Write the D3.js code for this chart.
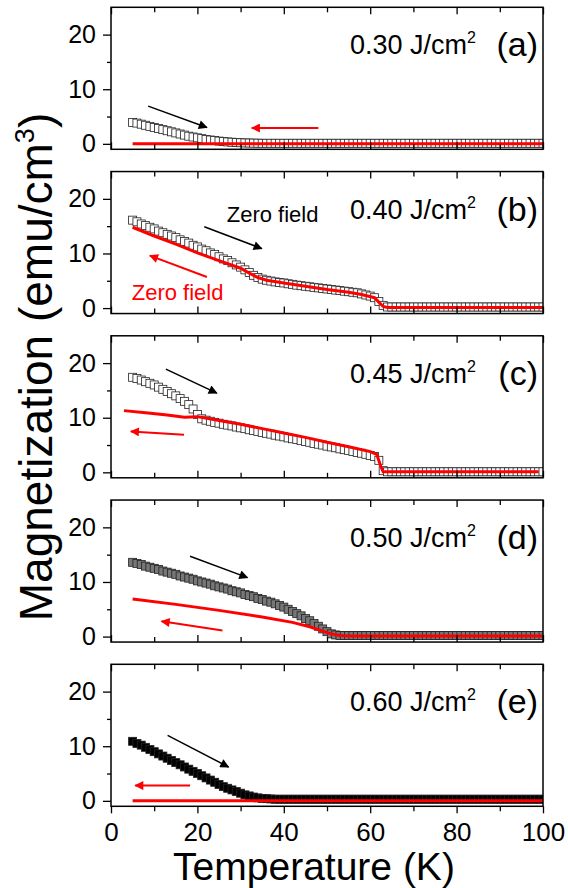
<!DOCTYPE html>
<html>
<head>
<meta charset="utf-8">
<script src="https://cdn.jsdelivr.net/npm/d3@7"></script>
<style>
body { margin: 0; background: #fff; }
svg { font-family: "Liberation Sans", Arial, sans-serif; }
</style>
</head>
<body>
<svg id="chart" width="568" height="888"></svg>
<script>
// temperatures of the warming runs (1 K steps)
var temps = d3.range(5, 101);

var fluences = ['0.30', '0.40', '0.45', '0.50', '0.60'];
var panelTags = ['(a)', '(b)', '(c)', '(d)', '(e)'];
var xTicks = [0, 20, 40, 60, 80, 100];
var xMinorTicks = [10, 30, 50, 70, 90];
var yTicks = [0, 10, 20];
var yMinorTicks = [5, 15];

// warming curves (black squares), one value per entry of temps
var warmA = [
	3.9, 3.8, 3.6, 3.4, 3.2, 3.0, 2.8, 2.6, 2.4, 2.2,
	2.0, 1.8, 1.6, 1.4, 1.25, 1.1, 0.95, 0.8, 0.7, 0.6,
	0.5, 0.42, 0.35, 0.3, 0.25, 0.2, 0.17, 0.15, 0.13, 0.12,
	0.1, 0.1, 0.1, 0.1, 0.1, 0.1, 0.1, 0.1, 0.1, 0.1,
	0.1, 0.1, 0.1, 0.1, 0.1, 0.1, 0.1, 0.1, 0.1, 0.1,
	0.1, 0.1, 0.1, 0.1, 0.1, 0.1, 0.1, 0.1, 0.1, 0.1,
	0.1, 0.1, 0.1, 0.1, 0.1, 0.1, 0.1, 0.1, 0.1, 0.1,
	0.1, 0.1, 0.1, 0.1, 0.1, 0.1, 0.1, 0.1, 0.1, 0.1,
	0.1, 0.1, 0.1, 0.1, 0.1, 0.1, 0.1, 0.1, 0.1, 0.1,
	0.1, 0.1, 0.1, 0.1, 0.1, 0.1
];
var warmB = [
	16.1, 15.8, 15.4, 15.1, 14.8, 14.5, 14.1, 13.8, 13.5, 13.2,
	12.9, 12.5, 12.2, 11.9, 11.5, 11.2, 10.8, 10.5, 10.1, 9.8,
	9.4, 9.0, 8.7, 8.3, 7.9, 7.5, 7.0, 6.5, 6.0, 5.6,
	5.3, 5.1, 4.95, 4.8, 4.7, 4.6, 4.45, 4.35, 4.2, 4.1,
	4.0, 3.9, 3.8, 3.7, 3.6, 3.5, 3.4, 3.3, 3.2, 3.1,
	3.0, 2.9, 2.8, 2.6, 2.4, 2.2, 1.9, 1.2, 0.5, 0.2,
	0.2, 0.2, 0.2, 0.2, 0.2, 0.2, 0.2, 0.2, 0.2, 0.2,
	0.2, 0.2, 0.2, 0.2, 0.2, 0.2, 0.2, 0.2, 0.2, 0.2,
	0.2, 0.2, 0.2, 0.2, 0.2, 0.2, 0.2, 0.2, 0.2, 0.2,
	0.2, 0.2, 0.2, 0.2, 0.2, 0.2
];
var warmC = [
	17.4, 17.2, 16.9, 16.6, 16.3, 16.0, 15.6, 15.2, 14.8, 14.4,
	14.0, 13.5, 13.0, 12.4, 11.6, 10.6, 9.8, 9.55, 9.35, 9.15,
	9.0, 8.8, 8.65, 8.5, 8.3, 8.15, 8.0, 7.8, 7.65, 7.5,
	7.3, 7.15, 7.0, 6.8, 6.65, 6.5, 6.3, 6.15, 6.0, 5.8,
	5.65, 5.5, 5.3, 5.15, 5.0, 4.8, 4.65, 4.5, 4.3, 4.15,
	4.0, 3.8, 3.65, 3.5, 3.3, 3.1, 2.9, 2.2, 0.3, 0.1,
	0.1, 0.1, 0.1, 0.1, 0.1, 0.1, 0.1, 0.1, 0.1, 0.1,
	0.1, 0.1, 0.1, 0.1, 0.1, 0.1, 0.1, 0.1, 0.1, 0.1,
	0.1, 0.1, 0.1, 0.1, 0.1, 0.1, 0.1, 0.1, 0.1, 0.1,
	0.1, 0.1, 0.1, 0.1, 0.1, 0.1
];
var warmD = [
	13.6, 13.4, 13.2, 12.9, 12.7, 12.5, 12.3, 12.0, 11.8, 11.6,
	11.4, 11.1, 10.9, 10.7, 10.5, 10.2, 10.0, 9.8, 9.6, 9.3,
	9.1, 8.9, 8.7, 8.4, 8.2, 8.0, 7.7, 7.5, 7.3, 7.0,
	6.8, 6.5, 6.3, 6.0, 5.7, 5.4, 5.0, 4.6, 4.2, 3.8,
	3.3, 2.9, 2.4, 1.9, 1.4, 0.9, 0.5, 0.3, 0.2, 0.2,
	0.2, 0.2, 0.2, 0.2, 0.2, 0.2, 0.2, 0.2, 0.2, 0.2,
	0.2, 0.2, 0.2, 0.2, 0.2, 0.2, 0.2, 0.2, 0.2, 0.2,
	0.2, 0.2, 0.2, 0.2, 0.2, 0.2, 0.2, 0.2, 0.2, 0.2,
	0.2, 0.2, 0.2, 0.2, 0.2, 0.2, 0.2, 0.2, 0.2, 0.2,
	0.2, 0.2, 0.2, 0.2, 0.2, 0.2
];
var warmE = [
	10.9, 10.5, 10.2, 9.8, 9.4, 9.0, 8.6, 8.2, 7.8, 7.4,
	7.0, 6.6, 6.2, 5.8, 5.4, 5.0, 4.6, 4.2, 3.8, 3.4,
	3.0, 2.6, 2.3, 2.0, 1.7, 1.4, 1.1, 0.9, 0.7, 0.55,
	0.45, 0.4, 0.35, 0.3, 0.3, 0.3, 0.3, 0.3, 0.3, 0.3,
	0.3, 0.3, 0.3, 0.3, 0.3, 0.3, 0.3, 0.3, 0.3, 0.3,
	0.3, 0.3, 0.3, 0.3, 0.3, 0.3, 0.3, 0.3, 0.3, 0.3,
	0.3, 0.3, 0.3, 0.3, 0.3, 0.3, 0.3, 0.3, 0.3, 0.3,
	0.3, 0.3, 0.3, 0.3, 0.3, 0.3, 0.3, 0.3, 0.3, 0.3,
	0.3, 0.3, 0.3, 0.3, 0.3, 0.3, 0.3, 0.3, 0.3, 0.3,
	0.3, 0.3, 0.3, 0.3, 0.3, 0.3
];

// cooling curves (red lines), [T, M]
var coolA = [[5, 0], [100, 0]];
var coolB = [[5, 14.8], [10, 13.2], [15, 11.7], [20, 10.1], [25, 8.7], [30, 7.3], [32, 6.4], [34, 5.6], [36, 5.1], [40, 4.6], [45, 4.0], [50, 3.4], [55, 2.9], [58, 2.5], [61, 1.9], [62, 1.1], [63, 0.3], [64, 0.1], [100, 0.1]];
var coolC = [[3, 11.3], [8, 10.9], [13, 10.5], [17, 10.1], [20, 10.2], [25, 9.5], [30, 8.8], [35, 8.0], [40, 7.2], [45, 6.4], [50, 5.5], [55, 4.7], [60, 3.8], [61.5, 3.3], [62.5, 1.0], [63, 0.1], [99, 0.1]];
var coolD = [[5, 6.9], [15, 5.9], [25, 4.8], [35, 3.6], [42, 2.6], [46, 1.8], [49, 1.0], [51, 0.5], [53, 0.2], [55, 0.1], [100, 0.1]];
var coolE = [[5, 0], [100, 0]];

// annotation arrows [T0, M0, T1, M1]
var arrowsBlack = [[8.6, 6.9, 22.2, 3.0], [21.6, 14.9, 34.9, 10.9], [12.7, 18.9, 24.5, 14.5], [18.3, 14.7, 31.6, 10.8], [13.1, 12.0, 27.2, 6.2]];
var arrowsRed = [[48, 2.9, 32.6, 2.9], [22.2, 5.7, 9.0, 9.6], [16.9, 6.9, 4.6, 7.5], [25.8, 1.1, 11.7, 2.8], [18.3, 2.8, 5.6, 2.8]];

var warmSets = [warmA, warmB, warmC, warmD, warmE];
var coolSets = [coolA, coolB, coolC, coolD, coolE];
var markerFill = ['#fff', '#fff', '#fff', '#777', '#000'];

var svg = d3.select('#chart');
var left = 111, right = 543;
var panelTop = 7.3, panelH = 142, panelStep = 164.25;

var x = d3.scaleLinear().domain([0, 100]).range([left, right]);

var defs = svg.append('defs');
['black', 'red'].forEach(function(c) {
	defs.append('marker')
		.attr('id', 'head-' + c)
		.attr('viewBox', '0 0 10 10')
		.attr('refX', 9).attr('refY', 5)
		.attr('markerUnits', 'userSpaceOnUse')
		.attr('markerWidth', 13).attr('markerHeight', 9)
		.attr('orient', 'auto')
	  .append('path')
		.attr('d', 'M0,0 L10,5 L0,10 Z')
		.attr('fill', c == 'red' ? '#f00' : '#000');
});

warmSets.forEach(function(warm, i) {
	var top = panelTop + i * panelStep;
	var y = d3.scaleLinear().domain([-1, 25]).range([top + panelH, top]);
	var g = svg.append('g');
	var last = i == warmSets.length - 1;

	g.append('clipPath').attr('id', 'clip' + i)
	  .append('rect')
		.attr('x', left).attr('y', top)
		.attr('width', right - left).attr('height', panelH);

	var plot = g.append('g').attr('clip-path', 'url(#clip' + i + ')');

	plot.selectAll('rect.pt')
		.data(temps)
	  .enter().append('rect')
		.attr('class', 'pt')
		.attr('x', function(d) { return x(d) - 4 })
		.attr('y', function(d, j) { return y(warm[j]) - 4 })
		.attr('width', 8).attr('height', 8)
		.attr('fill', markerFill[i])
		.attr('stroke', '#222')
		.attr('stroke-width', 0.8);

	plot.append('path')
		.datum(coolSets[i])
		.attr('fill', 'none')
		.attr('stroke', '#f00')
		.attr('stroke-width', 3)
		.attr('d', d3.line()
			.x(function(d) { return x(d[0]) })
			.y(function(d) { return y(d[1]) }));

	// axes
	g.append('g')
		.attr('transform', 'translate(' + left + ',0)')
		.call(d3.axisLeft(y).tickValues(yTicks).tickSize(8).tickPadding(7))
		.call(function(a) { a.select('.domain').remove() })
		.selectAll('text').attr('font-size', 25).attr('font-family', '"Liberation Sans", Arial, sans-serif');
	g.append('g')
		.attr('transform', 'translate(' + left + ',0)')
		.call(d3.axisLeft(y).tickValues(yMinorTicks).tickSize(4).tickFormat(''))
		.call(function(a) { a.select('.domain').remove() });

	g.append('g')
		.attr('transform', 'translate(0,' + top + ')')
		.call(d3.axisBottom(x).tickValues(xTicks).tickSize(7).tickFormat(''))
		.call(function(a) { a.select('.domain').remove() });
	g.append('g')
		.attr('transform', 'translate(0,' + top + ')')
		.call(d3.axisBottom(x).tickValues(xMinorTicks).tickSize(5).tickFormat(''))
		.call(function(a) { a.select('.domain').remove() });

	if (last) {
		g.append('g')
			.attr('transform', 'translate(0,' + (top + panelH) + ')')
			.call(d3.axisBottom(x).tickValues(xTicks).tickSize(7).tickPadding(9))
			.call(function(a) { a.select('.domain').remove() })
			.selectAll('text').attr('font-size', 26).attr('font-family', '"Liberation Sans", Arial, sans-serif');
		g.append('g')
			.attr('transform', 'translate(0,' + (top + panelH) + ')')
			.call(d3.axisBottom(x).tickValues(xMinorTicks).tickSize(5).tickFormat(''))
			.call(function(a) { a.select('.domain').remove() });
	} else {
		g.append('g')
			.attr('transform', 'translate(0,' + (top + panelH) + ')')
			.call(d3.axisTop(x).tickValues(xTicks).tickSize(7).tickFormat(''))
			.call(function(a) { a.select('.domain').remove() });
		g.append('g')
			.attr('transform', 'translate(0,' + (top + panelH) + ')')
			.call(d3.axisTop(x).tickValues(xMinorTicks).tickSize(5).tickFormat(''))
			.call(function(a) { a.select('.domain').remove() });
	}
	g.selectAll('.tick line').attr('stroke-width', 1.3);

	g.append('rect')
		.attr('x', left).attr('y', top)
		.attr('width', right - left).attr('height', panelH)
		.attr('fill', 'none').attr('stroke', '#000').attr('stroke-width', 1.5);

	// arrows
	[[arrowsBlack[i], 'black', 1.5], [arrowsRed[i], 'red', 2]].forEach(function(a) {
		var p = a[0];
		g.append('line')
			.attr('x1', x(p[0])).attr('y1', y(p[1]))
			.attr('x2', x(p[2])).attr('y2', y(p[3]))
			.attr('stroke', a[1] == 'red' ? '#f00' : '#000')
			.attr('stroke-width', a[2])
			.attr('marker-end', 'url(#head-' + a[1] + ')');
	});

	// fluence label and panel tag
	var lab = g.append('text')
		.attr('x', 476).attr('y', top + 47)
		.attr('text-anchor', 'end')
		.attr('font-size', 27);
	lab.append('tspan').text(fluences[i] + ' J/cm');
	lab.append('tspan').attr('font-size', 16).attr('dy', -11).text('2');

	g.append('text')
		.attr('x', 538).attr('y', top + 49)
		.attr('text-anchor', 'end')
		.attr('font-size', 34)
		.text(panelTags[i]);

	if (i == 1) {
		g.append('text')
			.attr('x', x(26.8)).attr('y', y(15.8))
			.attr('font-size', 22)
			.text('Zero field');
		g.append('text')
			.attr('x', x(4.8)).attr('y', y(1.4))
			.attr('font-size', 22)
			.attr('fill', '#f00')
			.text('Zero field');
	}
});

svg.append('text')
	.attr('x', (left + right) / 2 - 13).attr('y', 880)
	.attr('text-anchor', 'middle')
	.attr('font-size', 39)
	.text('Temperature (K)');

var yt = svg.append('text')
	.attr('transform', 'translate(52,367) rotate(-90)')
	.attr('text-anchor', 'middle')
	.attr('font-size', 46);
yt.append('tspan').text('Magnetization (emu/cm');
yt.append('tspan').attr('font-size', 27).attr('dy', -18).text('3');
yt.append('tspan').attr('dy', 18).text(')');
</script>
</body>
</html>
